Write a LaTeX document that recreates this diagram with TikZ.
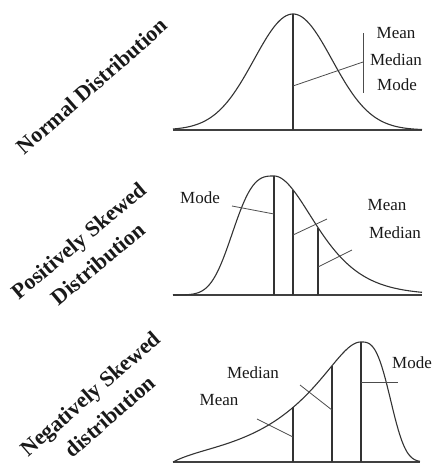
\documentclass[tikz,border=0pt]{standalone}
\usepackage{fontspec}
\setmainfont{Liberation Serif}

\begin{document}
\begin{tikzpicture}[x=1pt, y=-1pt,
  declare function={
    gauss(\x)=exp(-0.5*((\x-293)/39)^2);
    pskew(\x)=(\x<274) ? exp(-(abs(274-\x)/48)^3)
      : exp(-0.5*((\x-274)/(36+0.12*abs(\x-274)))^2);
    nskew(\x)=(\x>361) ? exp(-(abs(\x-361)/34)^3)
      : exp(-0.415*(sqrt(1+((361-\x)/25)^2)-1))*(1-exp(-abs(\x-173)/15));},
  curve/.style={draw=black!80, line width=1.1pt},
  axis/.style={draw=black!75, line width=2pt},
  stem/.style={draw=black!80, line width=1.3pt},
  leader/.style={draw=black!70, line width=0.8pt},
  lbl/.style={text=black!90, font=\fontsize{17}{20}\selectfont, inner sep=0pt},
  title/.style={text=black!90, font=\bfseries\fontsize{22}{30}\selectfont,
    align=center, inner sep=0pt}]
  \useasboundingbox (0,0) rectangle (441,464);

  % normal
  \node[title, rotate=41.5] (tn) at (92,86) {Normal Distribution};
  \draw[axis] (173,130) -- (422,130);
  \draw[curve, domain=173:422, samples=120] plot (\x, {130-116*gauss(\x)});
  \draw[stem] (293,130) -- (293,14);
  \draw[leader] (363,33) -- (363,93);
  \coordinate (nt) at (293,86);
  \coordinate (nb) at (363,62);
  \draw[leader] (nt) -- (nb);
  \node[lbl] (n1) at (396,33) {Mean};
  \node[lbl] (n2) at (396,60) {Median};
  \node[lbl] (n3) at (397,85) {Mode};

  % positive skew
  \node[title, rotate=40] (tp) at (88,252) {Positively Skewed\\Distribution};
  \draw[axis] (173,295) -- (422,295);
  \draw[curve, domain=173:422, samples=150] plot (\x, {295-119*pskew(\x)});
  \foreach \p in {274,293,318}
    \draw[stem] (\p,295) -- (\p,{295-119*pskew(\p)});
  \node[lbl] (p1) at (200,198) {Mode};
  \node[lbl] (p2) at (387,205) {Mean};
  \node[lbl] (p3) at (395,233) {Median};
  \draw[leader] (232,206) -- (274,214);
  \draw[leader] (293,235) -- (327,219);
  \draw[leader] (318,267) -- (352,250);

  % negative skew
  \node[title, rotate=41] (tq) at (100,405) {Negatively Skewed\\distribution};
  \draw[axis] (173,462) -- (420,462);
  \draw[curve, domain=173:420, samples=150] plot (\x, {462-120*nskew(\x)});
  \foreach \p in {293,332,361}
    \draw[stem] (\p,462) -- (\p,{462-120*nskew(\p)});
  \node[lbl] (q1) at (412,363) {Mode};
  \node[lbl] (q2) at (253,373) {Median};
  \node[lbl] (q3) at (219,400) {Mean};
  \draw[leader] (361,382) -- (398,382);
  \draw[leader] (332,410) -- (300,385);
  \draw[leader] (293,437) -- (257,419);
\end{tikzpicture}
\end{document}
